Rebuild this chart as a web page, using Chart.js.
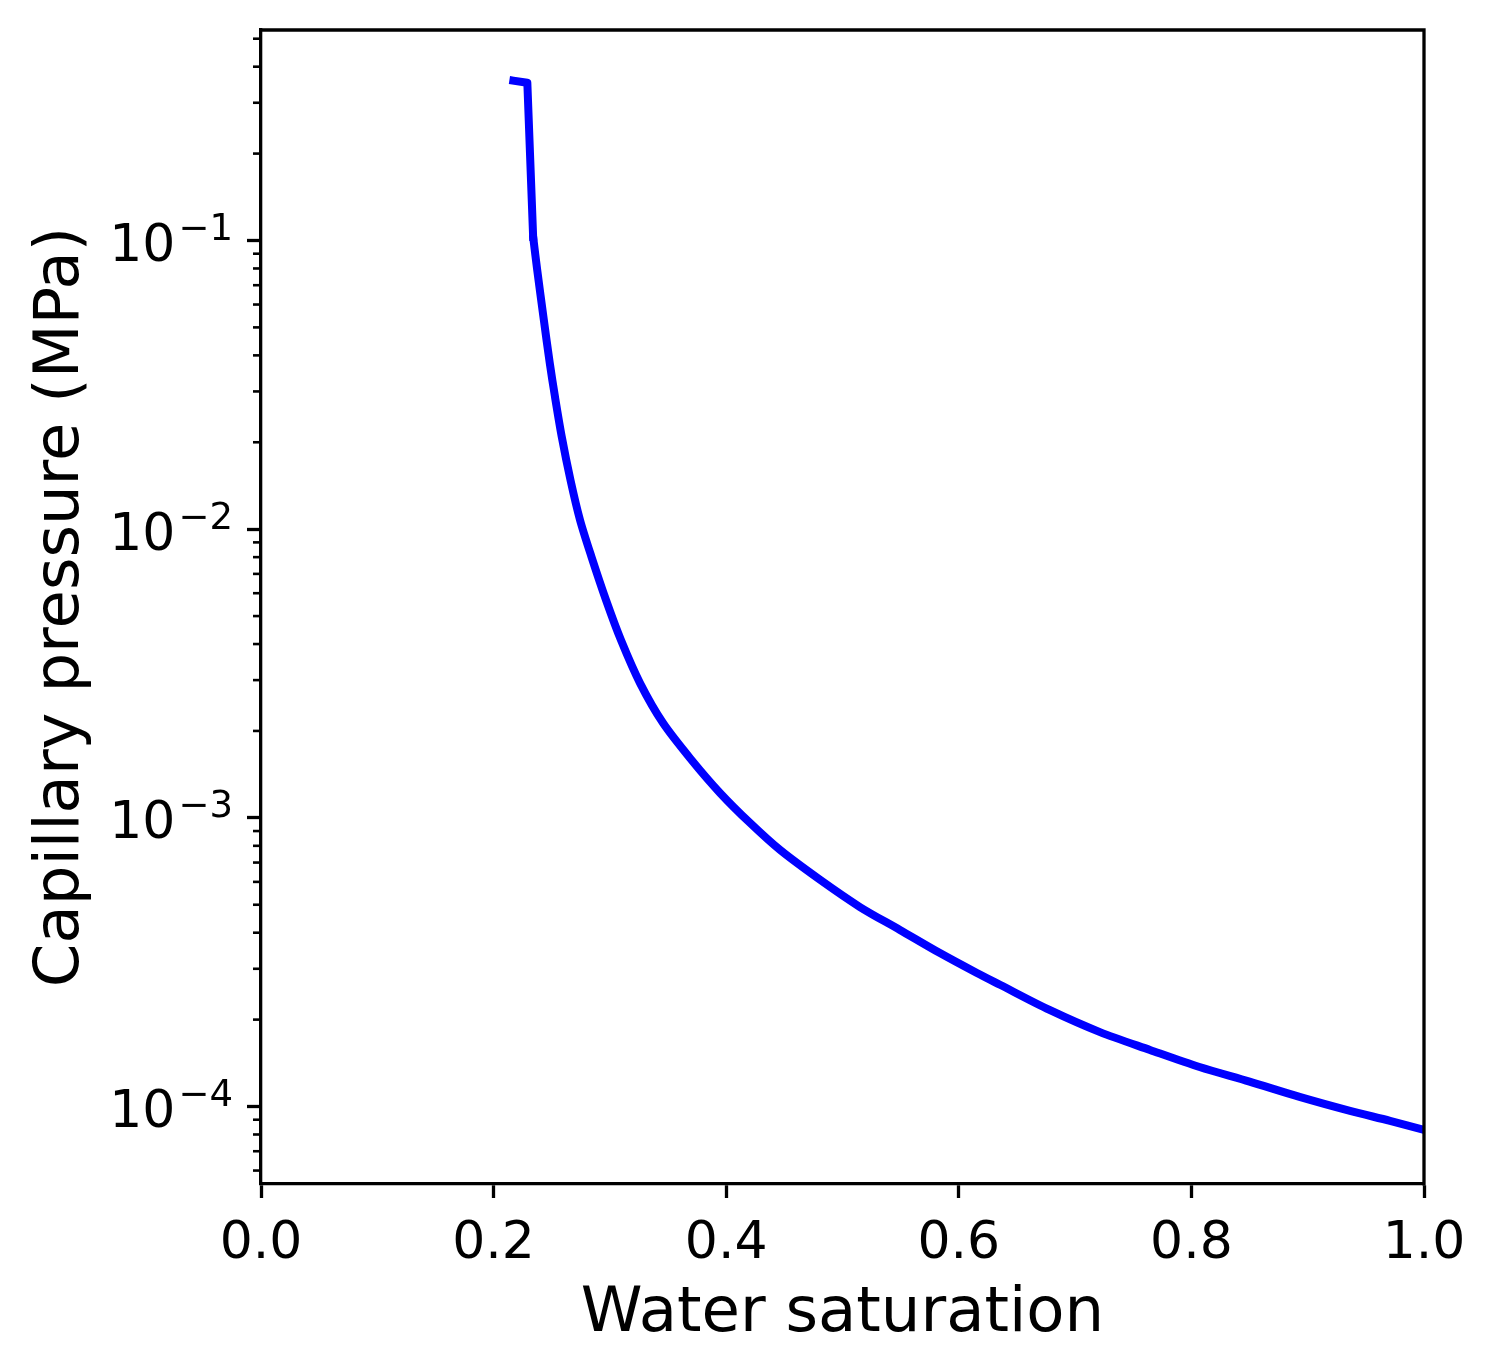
<!DOCTYPE html>
<html lang="en">
<head>
  <meta charset="UTF-8">
  <title>Capillary pressure curve</title>
  <script src="https://cdn.jsdelivr.net/npm/chart.js"></script>
  <style>
    html, body {
      margin: 0;
      padding: 0;
      background: #fff;
    }
    #wrap {
      width: 1496px;
      height: 1372px;
    }
  </style>
</head>
<body>
  <div id="wrap">
    <canvas id="pcChart" width="1496" height="1372"></canvas>
  </div>

  <script>
    // values
    const saturation = [0.217, 0.229, 0.234, 0.2375, 0.2432, 0.2483, 0.2528, 0.2586, 0.2661, 0.2743,
      0.2842, 0.2966, 0.3095, 0.3259, 0.3457, 0.3702, 0.3947, 0.4205, 0.4463, 0.4807,
      0.515, 0.5494, 0.5838, 0.6156, 0.6354, 0.678, 0.7214, 0.7644, 0.807, 0.850,
      0.893, 0.9364, 0.9708, 1.0];
    const pressure = [0.358, 0.352, 0.103, 0.079, 0.053, 0.0376, 0.0287, 0.0209, 0.0148, 0.01076,
      0.00801, 0.00569, 0.00413, 0.00293, 0.00213, 0.001587, 0.00122, 0.00096, 0.000774, 0.00061,
      0.000491, 0.000409, 0.00034, 0.00029, 0.000264, 0.000216, 0.000181, 0.000157, 0.000137, 0.000122,
      0.000108, 0.0000966, 0.0000892, 0.000083];

    const xTicks = [0, 0.2, 0.4, 0.6, 0.8, 1.0];
    const yExponents = [-1, -2, -3, -4];
    const xLimits = [0, 1];
    const yLimits = [5.39e-5, 0.536];

    const FONT = '"DejaVu Sans", sans-serif';
    const points = saturation.map((s, i) => ({ x: s, y: pressure[i] }));
    const capEnd = 2; // the short kinked piece at the top is drawn straight

    // minor log ticks, box frame and 10^n labels
    const axesExtras = {
      id: 'axesExtras',
      afterDraw(chart) {
        const ctx = chart.ctx;
        const area = chart.chartArea;
        const yScale = chart.scales.y;
        ctx.save();

        ctx.strokeStyle = '#000';
        ctx.lineWidth = 2.6;
        for (let e = -5; e <= 0; e++) {
          for (let k = 2; k <= 9; k++) {
            const v = k * Math.pow(10, e);
            if (v < yLimits[0] || v > yLimits[1]) continue;
            const py = yScale.getPixelForValue(v);
            ctx.beginPath();
            ctx.moveTo(area.left - 8, py);
            ctx.lineTo(area.left, py);
            ctx.stroke();
          }
        }

        // top and right spines
        ctx.lineWidth = 3.3;
        ctx.beginPath();
        ctx.moveTo(area.left - 1.6, area.top);
        ctx.lineTo(area.right, area.top);
        ctx.lineTo(area.right, area.bottom + 1.6);
        ctx.stroke();

        // y tick labels with superscripts
        ctx.fillStyle = '#000';
        ctx.textAlign = 'right';
        ctx.textBaseline = 'alphabetic';
        const rightEdge = area.left - 28;
        yExponents.forEach(e => {
          const py = yScale.getPixelForValue(Math.pow(10, e));
          const sup = '\u2212' + Math.abs(e);
          ctx.font = '37px ' + FONT;
          const supW = ctx.measureText(sup).width;
          ctx.fillText(sup, rightEdge, py - 0.5);
          ctx.font = '52px ' + FONT;
          ctx.fillText('10', rightEdge - supW - 3, py + 20.5);
        });

        ctx.restore();
      }
    };

    const lineStyle = {
      borderColor: '#0000ff',
      borderWidth: 8,
      borderJoinStyle: 'round',
      pointRadius: 0,
      fill: false
    };

    const ctx = document.getElementById('pcChart').getContext('2d');
    new Chart(ctx, {
      type: 'line',
      data: {
        datasets: [
          Object.assign({ data: points.slice(0, capEnd + 1), tension: 0, borderCapStyle: 'square' }, lineStyle),
          Object.assign({ data: points.slice(capEnd), tension: 0.3, borderCapStyle: 'round' }, lineStyle)
        ]
      },
      options: {
        responsive: false,
        devicePixelRatio: 1,
        animation: false,
        layout: {
          padding: { top: 30, right: 72, bottom: 0, left: 0 }
        },
        plugins: {
          legend: { display: false },
          tooltip: { enabled: false }
        },
        scales: {
          x: {
            type: 'linear',
            min: xLimits[0],
            max: xLimits[1],
            afterBuildTicks: scale => {
              scale.ticks = xTicks.map(v => ({ value: v }));
            },
            afterFit: scale => {
              scale.height = 188;
            },
            ticks: {
              autoSkip: false,
              maxRotation: 0,
              padding: 15,
              color: '#000',
              font: { family: FONT, size: 52 },
              callback: v => Number(v).toFixed(1)
            },
            grid: {
              drawOnChartArea: false,
              drawTicks: true,
              tickLength: 14,
              tickWidth: 3.3,
              tickColor: '#000'
            },
            border: { display: true, color: '#000', width: 3.3 },
            title: {
              display: true,
              text: 'Water saturation',
              color: '#000',
              font: { family: FONT, size: 62.5 },
              padding: { top: 0, bottom: 20 }
            }
          },
          y: {
            type: 'logarithmic',
            min: yLimits[0],
            max: yLimits[1],
            afterBuildTicks: scale => {
              scale.ticks = yExponents.map(e => ({ value: Math.pow(10, e), major: true }));
            },
            afterFit: scale => {
              scale.width = 261;
            },
            ticks: {
              display: false
            },
            grid: {
              drawOnChartArea: false,
              drawTicks: true,
              tickLength: 14,
              tickWidth: 3.3,
              tickColor: '#000'
            },
            border: { display: true, color: '#000', width: 3.3 },
            title: {
              display: true,
              text: 'Capillary pressure (MPa)',
              color: '#000',
              font: { family: FONT, size: 62.5 },
              padding: { top: 24, bottom: 0 }
            }
          }
        }
      },
      plugins: [axesExtras]
    });
  </script>
</body>
</html>
